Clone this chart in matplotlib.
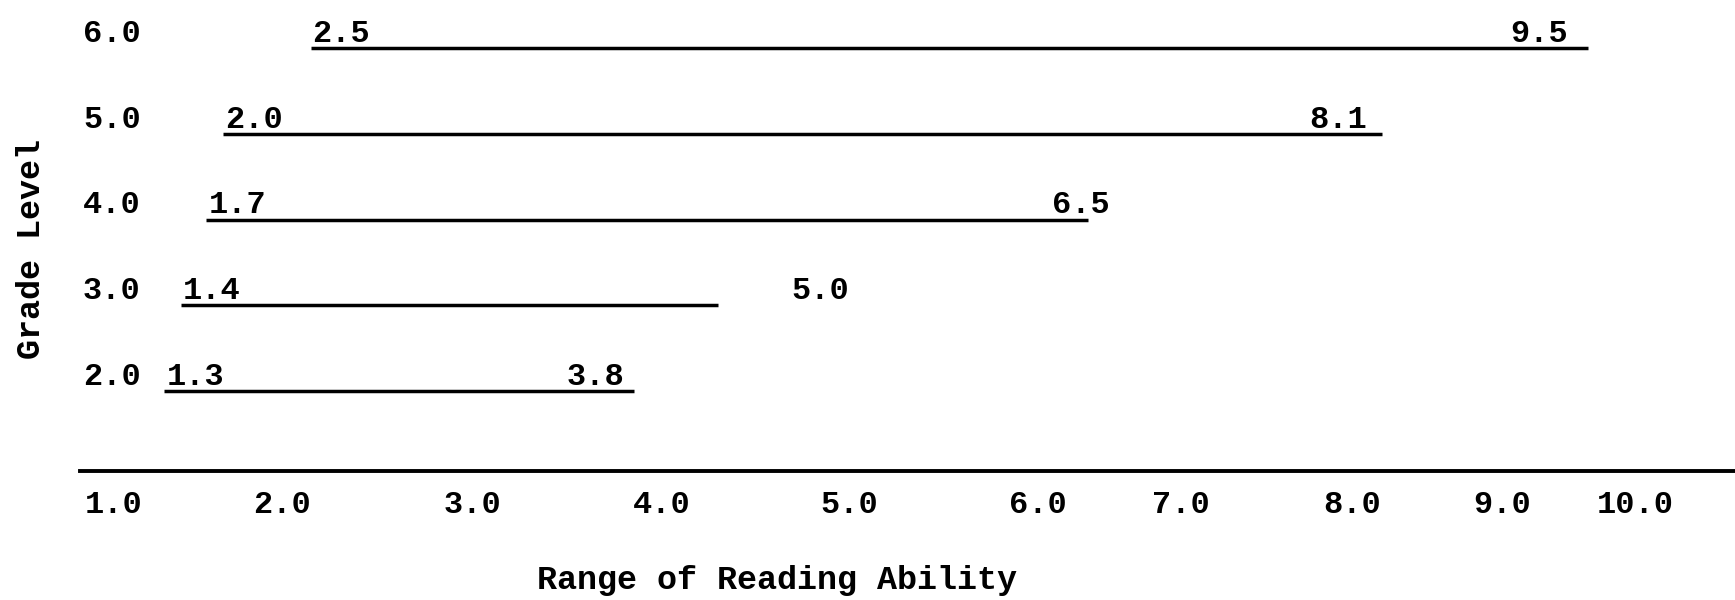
import numpy as np
import matplotlib.pyplot as plt

plt.rcParams['font.family'] = ['Liberation Mono', 'DejaVu Sans Mono']
plt.rcParams['font.weight'] = 'bold'
plt.rcParams['axes.labelweight'] = 'bold'

grades = [2.0, 3.0, 4.0, 5.0, 6.0]
low = [1.3, 1.4, 1.7, 2.0, 2.5]
high = [3.8, 5.0, 6.5, 8.1, 9.5]
# where the typed lines really start / stop when read against the scale
line_start = [1.3, 1.4, 1.55, 1.65, 2.15]
line_end = [3.85, 4.3, 6.35, 8.2, 9.65]

ticks = [1.0, 2.0, 3.0, 4.0, 5.0, 6.0, 7.0, 8.0, 9.0, 10.0]
tick_labels = ['1.0', '2.0', '3.0', '4.0', '5.0', '6.0', '7.0', '8.0', '9.0', '10.0']

# the typist spaced the scale unevenly -> piecewise scale through the typed ticks
tick_px = [114, 282, 472, 662, 849, 1038, 1181, 1352, 1502, 1635]
vals = np.r_[-20.0, ticks, 30.0]
pxs = np.r_[114 - 21 * 168, tick_px, 1635 + 20 * 133]

def fwd(v):
    return np.interp(v, vals, pxs)

def inv(p):
    return np.interp(p, pxs, vals)

fig = plt.figure(figsize=(17.35, 6), dpi=100)
ax = fig.add_axes([0, 0.215, 1, 0.785])
ax.set_xscale('function', functions=(fwd, inv))
ax.set_xlim(inv(0), inv(1735))
ax.set_ylim(1.067, 6.56)

ax.hlines(grades, line_start, line_end, color='black', lw=2.5)

fs = 23
for g, lo, hi, s in zip(grades, low, high, line_start):
    ax.annotate(f'{g:.1f}', xy=(inv(83), g), xytext=(0, 4.5), textcoords='offset points',
                ha='left', va='baseline', fontsize=fs)
    ax.annotate(f'{lo:.1f}', xy=(s, g), xytext=(1.5, 4.5), textcoords='offset points',
                ha='left', va='baseline', fontsize=fs)
    ax.annotate(f'{hi:.1f}', xy=(hi, g), xytext=(0, 4.5), textcoords='offset points',
                ha='right', va='baseline', fontsize=fs)

for side in ['top', 'left', 'right']:
    ax.spines[side].set_visible(False)
ax.spines['bottom'].set_linewidth(2.8)
ax.spines['bottom'].set_bounds(inv(80), inv(1735))

ax.set_yticks([])
ax.set_xticks(ticks)
ax.set_xticklabels(tick_labels, fontsize=fs)
ax.tick_params(axis='x', length=0, pad=14)
ax.xaxis.set_minor_locator(plt.NullLocator())

ax.set_xlabel('Range of Reading Ability', fontsize=24, va='center')
ax.xaxis.set_label_coords(777 / 1735, (471 - 581) / 471)
ax.set_ylabel('Grade Level', fontsize=24, va='center')
ax.yaxis.set_label_coords(31 / 1735, (471 - 249) / 471)

fig.savefig('out.png', dpi=100, facecolor='white')
